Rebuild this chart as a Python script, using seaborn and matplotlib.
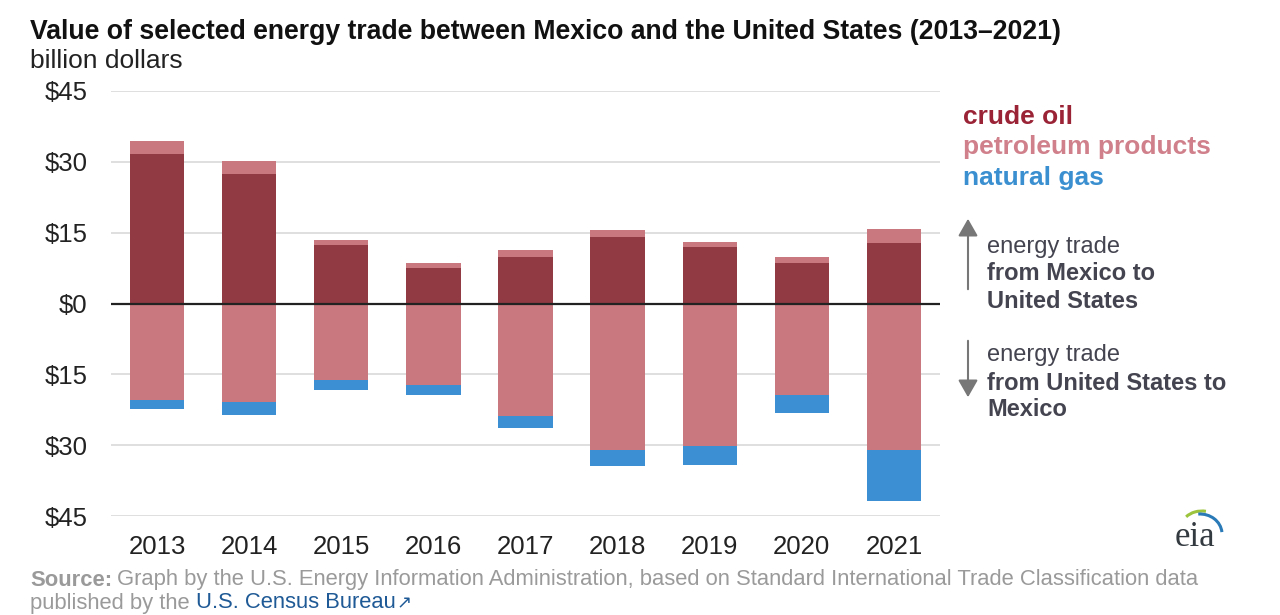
import matplotlib
matplotlib.use("Agg")
import matplotlib.pyplot as plt
import seaborn as sns
import pandas as pd
from matplotlib.patches import Arc

years = ["2013", "2014", "2015", "2016", "2017", "2018", "2019", "2020", "2021"]
crude_mx_to_us = [31.6, 27.4, 12.3, 7.5, 9.9, 14.0, 11.9, 8.5, 12.9]
products_mx_to_us = [2.9, 2.7, 1.2, 1.1, 1.4, 1.5, 1.2, 1.3, 2.9]
products_us_to_mx = [20.5, 20.9, 16.2, 17.2, 23.9, 31.1, 30.1, 19.3, 31.1]
gas_us_to_mx = [1.9, 2.8, 2.1, 2.1, 2.5, 3.4, 4.2, 3.9, 10.7]
y_ticks = [-45, -30, -15, 0, 15, 30, 45]

C_CRUDE = "#923a43"
C_PROD = "#c97880"
C_GAS = "#3d8fd3"

sns.set_theme(style="white")
plt.rcParams["font.family"] = ["Liberation Sans", "DejaVu Sans"]

df = pd.DataFrame({
    "year": years,
    "pos_total": [c + p for c, p in zip(crude_mx_to_us, products_mx_to_us)],
    "crude": crude_mx_to_us,
    "neg_total": [-(p + g) for p, g in zip(products_us_to_mx, gas_us_to_mx)],
    "neg_prod": [-p for p in products_us_to_mx],
})

fig = plt.figure(figsize=(12.8, 6.15), dpi=100)
ax = fig.add_axes([111 / 1280, 1 - 516 / 615, (940 - 111) / 1280, (516 - 91) / 615])

for ycol, col in [("pos_total", C_PROD), ("crude", C_CRUDE),
                  ("neg_total", C_GAS), ("neg_prod", C_PROD)]:
    sns.barplot(data=df, x="year", y=ycol, color=col, width=0.59,
                saturation=1, linewidth=0, ax=ax, zorder=3)

ax.set_xlim(-0.5, 8.5)
ax.set_ylim(-45, 45)
ax.set_yticks(y_ticks)
ax.set_yticklabels([f"${abs(v)}" for v in y_ticks])
ax.set_xlabel("")
ax.set_ylabel("")
for v in y_ticks:
    if v != 0:
        ax.axhline(v, color="#d9d9d9", lw=1.2, zorder=1)
ax.axhline(0, color="#222222", lw=1.6, zorder=4)
for s in ax.spines.values():
    s.set_visible(False)
ax.tick_params(axis="y", length=0, pad=17, labelsize=18.5, labelcolor="#222222")
ax.tick_params(axis="x", length=0, pad=14, labelsize=18.5, labelcolor="#222222")

# title
fig.text(30 / 1280, 1 - 32 / 615, "Value of selected energy trade between Mexico and the United States (2013\u20132021)",
         fontsize=19.2, fontweight="bold", color="#111111", va="center", ha="left")
fig.text(30 / 1280, 1 - 61 / 615, "billion dollars", fontsize=19, color="#222222",
         va="center", ha="left")

# legend text
fig.text(963 / 1280, 1 - 117 / 615, "crude oil", fontsize=19, fontweight="bold",
         color="#9a2336", va="center")
fig.text(963 / 1280, 1 - 147 / 615, "petroleum products", fontsize=19, fontweight="bold",
         color="#d0808b", va="center")
fig.text(963 / 1280, 1 - 178 / 615, "natural gas", fontsize=19, fontweight="bold",
         color="#3a8fd0", va="center")

# arrows
fig.patches.append(matplotlib.patches.FancyArrowPatch(
    (968 / 1280, 1 - 292 / 615), (968 / 1280, 1 - 216 / 615), transform=fig.transFigure,
    arrowstyle="-|>,head_length=7,head_width=4", color="#777777", lw=1.5, mutation_scale=1.5))
fig.patches.append(matplotlib.patches.FancyArrowPatch(
    (968 / 1280, 1 - 338 / 615), (968 / 1280, 1 - 400 / 615), transform=fig.transFigure,
    arrowstyle="-|>,head_length=7,head_width=4", color="#777777", lw=1.5, mutation_scale=1.5))

tcol = "#444450"
fs = 17
fig.text(987 / 1280, 1 - 247 / 615, "energy trade", fontsize=fs, color=tcol, va="center")
fig.text(987 / 1280, 1 - 274 / 615, "from Mexico to", fontsize=fs, fontweight="bold", color=tcol, va="center")
fig.text(987 / 1280, 1 - 302 / 615, "United States", fontsize=fs, fontweight="bold", color=tcol, va="center")
fig.text(987 / 1280, 1 - 355 / 615, "energy trade", fontsize=fs, color=tcol, va="center")
fig.text(987 / 1280, 1 - 383 / 615, "from United States to", fontsize=fs, fontweight="bold", color=tcol, va="center")
fig.text(987 / 1280, 1 - 410 / 615, "Mexico", fontsize=fs, fontweight="bold", color=tcol, va="center")

# source
gray = "#9a9a9a"
sfs = 15.8
t1 = fig.text(30 / 1280, 1 - 580 / 615, "Source:", fontsize=sfs, fontweight="bold",
              color=gray, va="center")
fig.canvas.draw()
r = fig.canvas.get_renderer()
bb = t1.get_window_extent(r)
fig.text((bb.x1 + 5) / 1280, 1 - 580 / 615,
         "Graph by the U.S. Energy Information Administration, based on Standard International Trade Classification data",
         fontsize=sfs, color=gray, va="center")
t2 = fig.text(30 / 1280, 1 - 603 / 615, "published by the ", fontsize=sfs, color=gray, va="center")
bb2 = t2.get_window_extent(r)
t3 = fig.text(bb2.x1 / 1280, 1 - 603 / 615, "U.S. Census Bureau", fontsize=sfs,
              color="#1f5a96", va="center")
bb3 = t3.get_window_extent(r)
fig.text((bb3.x1 + 1) / 1280, 1 - 603 / 615, "\u2197", fontsize=13, color="#1f5a96",
         va="center", family=["DejaVu Sans"])

# eia logo
fig.text(1195 / 1280, 1 - 537 / 615, "eia", fontsize=25, color="#333a40",
         family=["Liberation Serif", "DejaVu Serif"], ha="center", va="center")
lax = fig.add_axes([1170 / 1280, 1 - 540 / 615, 56 / 1280, 32 / 615])
lax.set_xlim(0, 56)
lax.set_ylim(0, 32)
lax.axis("off")
lax.add_patch(Arc((32, 14), 40, 30, theta1=75, theta2=150, color="#9cc43c", lw=2.2))
lax.add_patch(Arc((30, 6), 44, 40, theta1=5, theta2=95, color="#2a7ab8", lw=2.2))

fig.savefig("out.png", dpi=100, facecolor="white")
